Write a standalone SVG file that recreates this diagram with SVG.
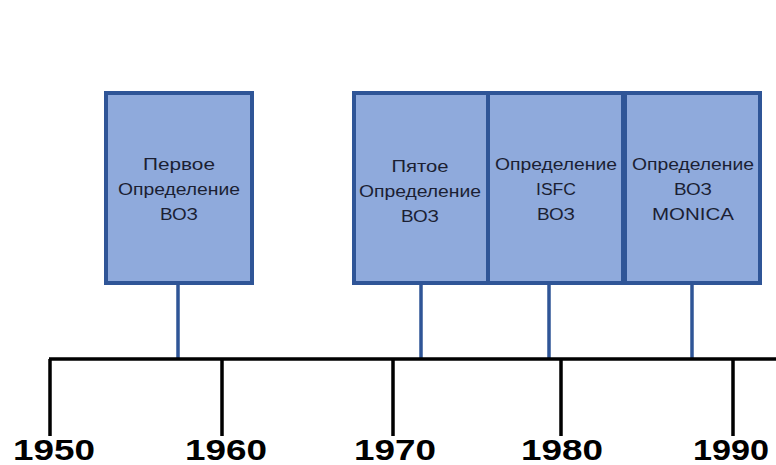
<svg xmlns="http://www.w3.org/2000/svg" width="776" height="465" viewBox="0 0 776 465">
<style>
.box{fill:#8FAADC;stroke:#2F5597;stroke-width:4}
.t{font-family:"Liberation Sans",Arial,sans-serif;font-size:16px;fill:#1B1F33;text-anchor:middle}
.stem{stroke:#2F5597;stroke-width:3.5;fill:none}
.axis{stroke:#000;stroke-width:3.5;fill:none}
.yr{font-family:"Liberation Sans",Arial,sans-serif;font-weight:bold;font-size:30px;fill:#000;text-anchor:middle}
</style>
<rect width="776" height="465" fill="#fff"/>
<g id="connectors">
<path class="stem" d="M178 285V358M421 285V358M549 285V358M692 285V358"/>
<path class="axis" d="M49 359H776M50 359V436M222 359V436M393 359V436M561 359V436M733 359V436"/>
</g>
<g id="n1">
<rect class="box" x="106" y="93" width="146" height="190"/>
<text class="t" x="179" y="170" textLength="72" lengthAdjust="spacingAndGlyphs">Первое</text>
<text class="t" x="179" y="195" textLength="122" lengthAdjust="spacingAndGlyphs">Определение</text>
<text class="t" x="179" y="220" textLength="38" lengthAdjust="spacingAndGlyphs">ВОЗ</text>
</g>
<g id="n2">
<rect class="box" x="354" y="93" width="134" height="190"/>
<text class="t" x="420" y="172" textLength="57" lengthAdjust="spacingAndGlyphs">Пятое</text>
<text class="t" x="420" y="197" textLength="122" lengthAdjust="spacingAndGlyphs">Определение</text>
<text class="t" x="420" y="222" textLength="38" lengthAdjust="spacingAndGlyphs">ВОЗ</text>
</g>
<g id="n3">
<rect class="box" x="488" y="93" width="135" height="190"/>
<text class="t" x="556" y="170" textLength="122" lengthAdjust="spacingAndGlyphs">Определение</text>
<text class="t" x="556" y="195" textLength="40" lengthAdjust="spacingAndGlyphs">ISFC</text>
<text class="t" x="556" y="220" textLength="38" lengthAdjust="spacingAndGlyphs">ВОЗ</text>
</g>
<g id="n4">
<rect class="box" x="625" y="93" width="135" height="190"/>
<text class="t" x="693" y="170" textLength="122" lengthAdjust="spacingAndGlyphs">Определение</text>
<text class="t" x="693" y="195" textLength="38" lengthAdjust="spacingAndGlyphs">ВОЗ</text>
<text class="t" x="693" y="220" textLength="82" lengthAdjust="spacingAndGlyphs">MONICA</text>
</g>
<g id="years">
<text class="yr" x="54" y="460" textLength="82" lengthAdjust="spacingAndGlyphs">1950</text>
<text class="yr" x="226" y="460" textLength="82" lengthAdjust="spacingAndGlyphs">1960</text>
<text class="yr" x="395" y="460" textLength="82" lengthAdjust="spacingAndGlyphs">1970</text>
<text class="yr" x="562" y="460" textLength="82" lengthAdjust="spacingAndGlyphs">1980</text>
<text class="yr" x="731" y="460" textLength="76" lengthAdjust="spacingAndGlyphs">1990</text>
</g>
</svg>
